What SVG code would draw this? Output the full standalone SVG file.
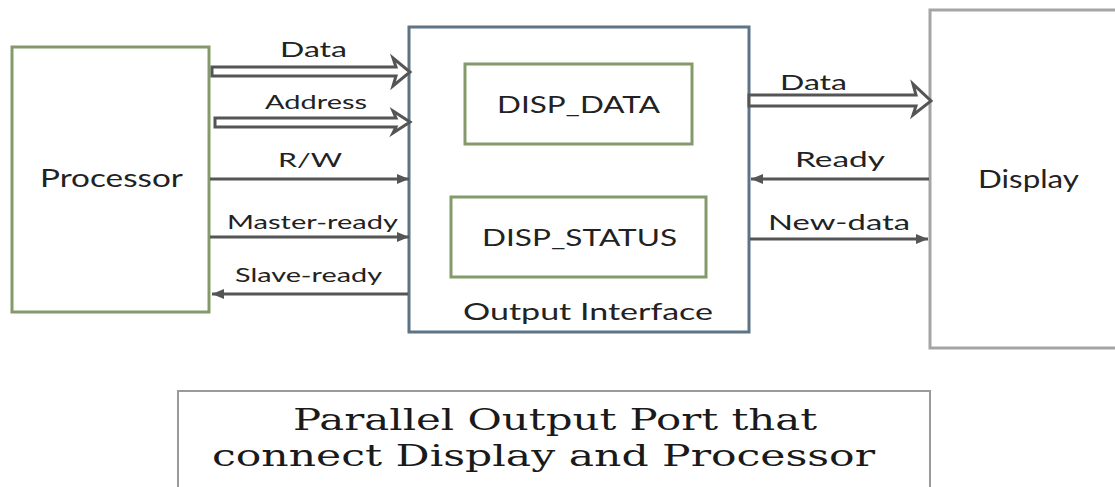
<svg xmlns="http://www.w3.org/2000/svg" width="1115" height="487" viewBox="0 0 1115 487">
<defs>
<style>
.sans{font-family:Lato,"Noto Sans","DejaVu Sans",sans-serif;fill:#222;}
.serif{font-family:"DejaVu Serif","Liberation Serif",serif;fill:#1a1a1a;}
.line{stroke:#555;stroke-width:3;fill:none;}
.hollow{stroke:#555;stroke-width:3;fill:#fff;stroke-linejoin:miter;}
.green{fill:#fff;stroke:#849a6a;stroke-width:3;}
</style>
<marker id="ah" markerUnits="userSpaceOnUse" markerWidth="14" markerHeight="12" refX="12" refY="6" orient="auto">
<path d="M0,1 L12,6 L0,11 Z" fill="#555"/>
</marker>
</defs>
<rect width="1115" height="487" fill="#fff"/>
<g id="processor">
<rect class="green" x="12" y="47" width="197" height="265"/>
<text class="sans" x="40" y="187" font-size="24.5" textLength="143" lengthAdjust="spacingAndGlyphs">Processor</text>
</g>
<g id="output-interface">
<rect x="409" y="27" width="340" height="305" fill="#fff" stroke="#5d7386" stroke-width="3"/>
<text class="sans" x="463" y="320" font-size="23" textLength="250" lengthAdjust="spacingAndGlyphs">Output Interface</text>
</g>
<g id="disp-data">
<rect class="green" x="465" y="64" width="227" height="80"/>
<text class="sans" x="497" y="113" font-size="22.5" textLength="163" lengthAdjust="spacingAndGlyphs">DISP_DATA</text>
</g>
<g id="disp-status">
<rect class="green" x="451" y="197" width="255" height="80"/>
<text class="sans" x="482" y="246" font-size="23" textLength="195" lengthAdjust="spacingAndGlyphs">DISP_STATUS</text>
</g>
<g id="display">
<rect x="930" y="10" width="190" height="338" fill="#fff" stroke="#a5a5a5" stroke-width="3"/>
<text class="sans" x="978" y="188" font-size="24.5" textLength="101" lengthAdjust="spacingAndGlyphs">Display</text>
</g>
<g id="caption">
<rect x="178" y="391" width="752" height="110" fill="#fff" stroke="#9a9a9a" stroke-width="2"/>
<text class="serif" x="293" y="430" font-size="30" textLength="524" lengthAdjust="spacingAndGlyphs">Parallel Output Port that</text>
<text class="serif" x="212" y="466" font-size="30" textLength="663" lengthAdjust="spacingAndGlyphs">connect Display and Processor</text>
</g>
<g id="connectors">
<path class="hollow" d="M212,67 L396,67 L393,58 L410,72 L393,86 L396,76 L212,76 Z"/>
<path class="hollow" d="M215,118 L396,118 L393,111 L410,122 L393,133 L396,127 L215,127 Z"/>
<path class="hollow" d="M749,95 L916,95 L913,84 L931,101 L913,115 L916,106 L749,106 Z"/>
<line class="line" x1="210" y1="179" x2="409" y2="179" marker-end="url(#ah)"/>
<line class="line" x1="210" y1="237" x2="409" y2="237" marker-end="url(#ah)"/>
<line class="line" x1="408" y1="294" x2="212" y2="294" marker-end="url(#ah)"/>
<line class="line" x1="929" y1="179" x2="751" y2="179" marker-end="url(#ah)"/>
<line class="line" x1="750" y1="239" x2="928" y2="239" marker-end="url(#ah)"/>
<text class="sans" x="280" y="57" font-size="21" textLength="67" lengthAdjust="spacingAndGlyphs">Data</text>
<text class="sans" x="265" y="109" font-size="19" textLength="102" lengthAdjust="spacingAndGlyphs">Address</text>
<text class="sans" x="278" y="167" font-size="20" textLength="64" lengthAdjust="spacingAndGlyphs">R/W</text>
<text class="sans" x="227" y="229" font-size="20" textLength="171" lengthAdjust="spacingAndGlyphs">Master-ready</text>
<text class="sans" x="235" y="282" font-size="20" textLength="147" lengthAdjust="spacingAndGlyphs">Slave-ready</text>
<text class="sans" x="780" y="90" font-size="21" textLength="67" lengthAdjust="spacingAndGlyphs">Data</text>
<text class="sans" x="795" y="167" font-size="21" textLength="90" lengthAdjust="spacingAndGlyphs">Ready</text>
<text class="sans" x="768" y="230" font-size="22" textLength="142" lengthAdjust="spacingAndGlyphs">New-data</text>
</g>
</svg>
